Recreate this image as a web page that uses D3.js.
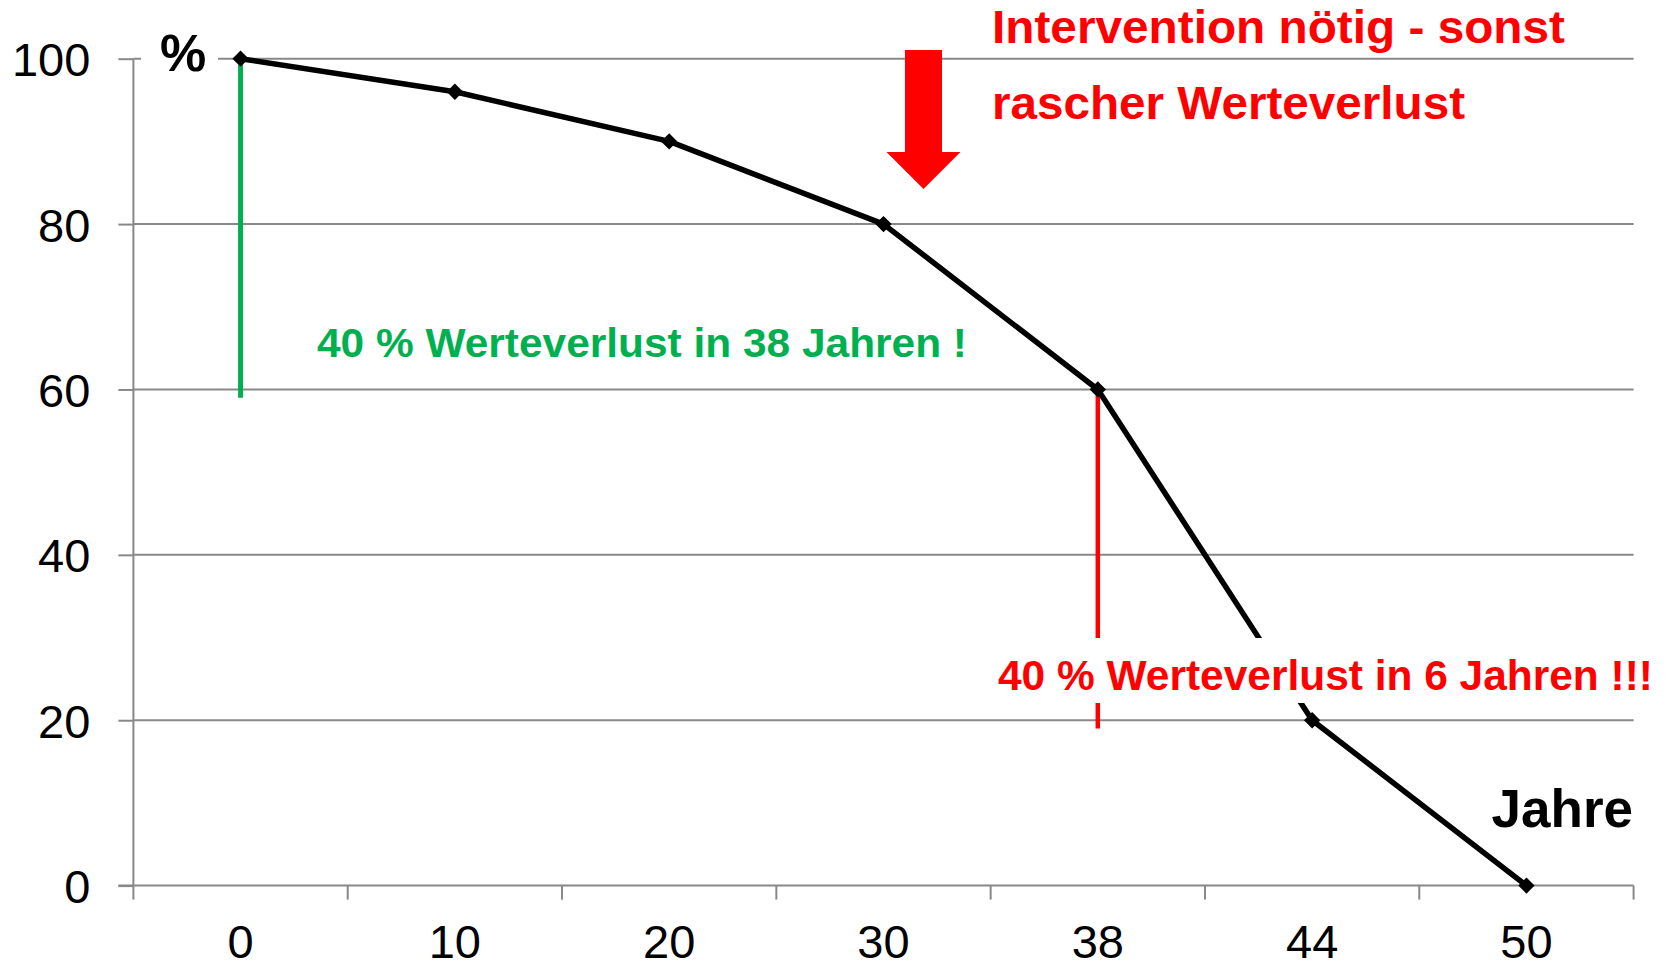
<!DOCTYPE html>
<html>
<head>
<meta charset="utf-8">
<script src="https://cdn.jsdelivr.net/npm/d3@7"></script>
<style>
  html, body { margin: 0; padding: 0; background: #fff; }
  svg { display: block; font-family: "Liberation Sans", Arial, sans-serif; }
</style>
</head>
<body>
<svg id="chart" width="1673" height="963"></svg>
<script>
// ---- data ----
const categories = ["0", "10", "20", "30", "38", "44", "50"];
const values = [100, 96, 90, 80, 60, 20, 0];
const yTicks = [0, 20, 40, 60, 80, 100];
const greenSpan = { cat: "0", from: 100, to: 59 };
const redSpan = { cat: "38", from: 60, to: 19 };

// ---- layout ----
const plotLeft = 133.4, plotRight = 1633.6, plotTop = 58.7, plotBottom = 885.6;
const gridColor = "#888888";

const svg = d3.select("#chart");
const x = d3.scaleBand().domain(categories).range([plotLeft, plotRight]).padding(0);
const y = d3.scaleLinear().domain([0, 100]).range([plotBottom, plotTop]);
const cx = d => x(d) + x.bandwidth() / 2;

// gridlines
svg.append("g").selectAll("line").data(yTicks.filter(t => t > 0)).join("line")
  .attr("x1", plotLeft).attr("x2", plotRight)
  .attr("y1", d => y(d)).attr("y2", d => y(d))
  .attr("stroke", gridColor).attr("stroke-width", 2);

// y axis
const yAxis = svg.append("g").attr("transform", `translate(${plotLeft},0)`)
  .call(d3.axisLeft(y).tickValues(yTicks).tickSize(15).tickPadding(28).tickFormat(d3.format("d")));
yAxis.select(".domain").attr("stroke", gridColor).attr("stroke-width", 2).attr("d", `M0,${y(100)}V${y(0)}`);
yAxis.selectAll(".tick line").attr("stroke", gridColor).attr("stroke-width", 2);
yAxis.selectAll(".tick text").attr("font-size", 47).attr("fill", "#000")
  .attr("font-family", "Liberation Sans, Arial, sans-serif").attr("dy", "0.36em");

// x axis
const xAxis = svg.append("g").attr("transform", `translate(0,${plotBottom})`)
  .call(d3.axisBottom(x).tickSize(0).tickPadding(0));
xAxis.select(".domain").attr("stroke", gridColor).attr("stroke-width", 2).attr("d", `M${plotLeft - 15},0H${plotRight}`);
xAxis.selectAll(".tick text").attr("font-size", 47).attr("fill", "#000")
  .attr("font-family", "Liberation Sans, Arial, sans-serif").attr("y", 72.4).attr("dy", 0);
const boundaries = categories.map(c => x(c)).concat([x.range()[1]]);
xAxis.append("g").selectAll("line").data(boundaries).join("line")
  .attr("x1", d => d).attr("x2", d => d).attr("y1", 0).attr("y2", 14)
  .attr("stroke", gridColor).attr("stroke-width", 2);

// "%" label with white background
svg.append("rect").attr("x", 141).attr("y", 28).attr("width", 77).attr("height", 50).attr("fill", "#fff");
svg.append("text").attr("x", 160).attr("y", 71).attr("font-size", 52).attr("font-weight", "bold")
  .attr("fill", "#000").text("%");

// green vertical line
svg.append("line")
  .attr("x1", cx(greenSpan.cat)).attr("x2", cx(greenSpan.cat))
  .attr("y1", y(greenSpan.from)).attr("y2", y(greenSpan.to))
  .attr("stroke", "#00B050").attr("stroke-width", 5);

// red vertical line
svg.append("line")
  .attr("x1", cx(redSpan.cat)).attr("x2", cx(redSpan.cat))
  .attr("y1", y(redSpan.from)).attr("y2", y(redSpan.to))
  .attr("stroke", "#FF0000").attr("stroke-width", 4.5);

// main line
const line = d3.line().x((d, i) => cx(categories[i])).y(d => y(d));
svg.append("path").datum(values).attr("d", line)
  .attr("fill", "none").attr("stroke", "#000").attr("stroke-width", 5.5).attr("stroke-linejoin", "round");

// markers
svg.append("g").selectAll("path").data(values).join("path")
  .attr("d", d3.symbol().type(d3.symbolDiamond2).size(170))
  .attr("transform", (d, i) => `translate(${cx(categories[i])},${y(d)})`)
  .attr("fill", "#000");

// green annotation
svg.append("text").attr("x", 317).attr("y", 357).attr("font-size", 40).attr("font-weight", "bold")
  .attr("fill", "#00B050").attr("textLength", 650).attr("lengthAdjust", "spacingAndGlyphs")
  .text("40 % Werteverlust in 38 Jahren !");

// red annotation with white box
svg.append("rect").attr("x", 988).attr("y", 638).attr("width", 677).attr("height", 65).attr("fill", "#fff");
svg.append("text").attr("x", 998).attr("y", 690).attr("font-size", 42).attr("font-weight", "bold")
  .attr("fill", "#FF0000").attr("textLength", 655).attr("lengthAdjust", "spacingAndGlyphs")
  .text("40 % Werteverlust in 6 Jahren !!!");

// intervention text
svg.append("text").attr("x", 992).attr("y", 43).attr("font-size", 46).attr("font-weight", "bold")
  .attr("fill", "#FF0000").attr("textLength", 573).attr("lengthAdjust", "spacingAndGlyphs")
  .text("Intervention nötig - sonst");
svg.append("text").attr("x", 992).attr("y", 119).attr("font-size", 46).attr("font-weight", "bold")
  .attr("fill", "#FF0000").attr("textLength", 473).attr("lengthAdjust", "spacingAndGlyphs")
  .text("rascher Werteverlust");

// red arrow
const ax = 923.5, shaftW = 37, headW = 74, yTop = 50, yHead = 152, yTip = 189;
svg.append("path")
  .attr("d", `M${ax - shaftW / 2},${yTop}H${ax + shaftW / 2}V${yHead}H${ax + headW / 2}L${ax},${yTip}L${ax - headW / 2},${yHead}H${ax - shaftW / 2}Z`)
  .attr("fill", "#FF0000");

// Jahre
svg.append("text").attr("x", 1633).attr("y", 827).attr("text-anchor", "end")
  .attr("font-size", 53).attr("font-weight", "bold").attr("fill", "#000").text("Jahre");
</script>
</body>
</html>
